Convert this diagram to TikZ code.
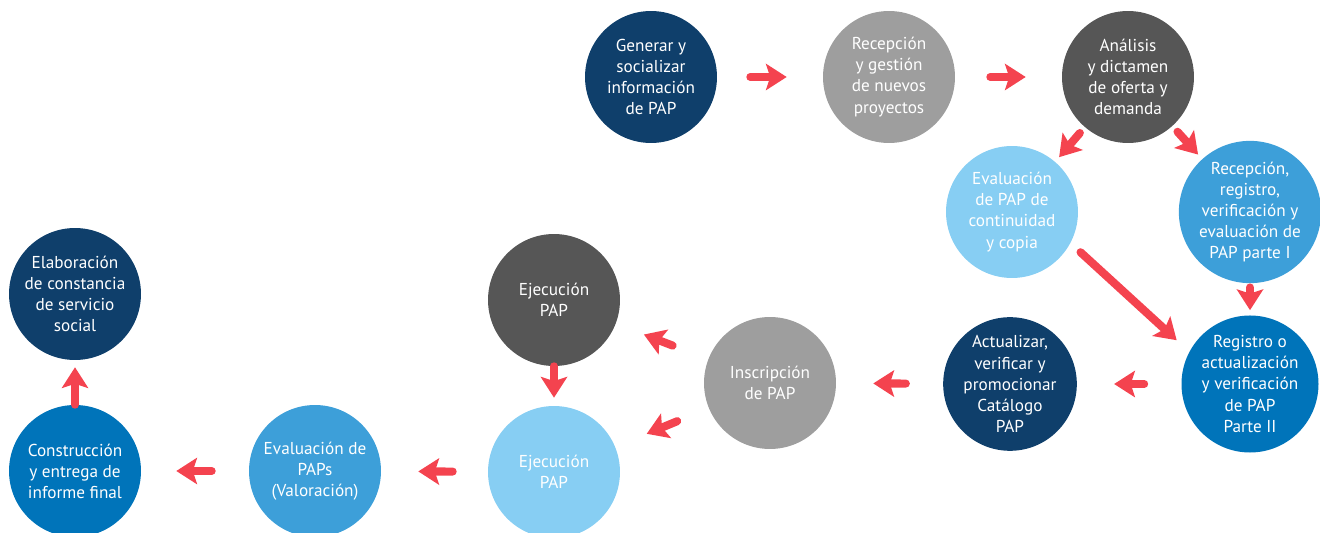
\documentclass[tikz,border=0pt]{standalone}
\usepackage{fontspec}
\setmainfont{PT Sans}
\usetikzlibrary{arrows.meta}
\definecolor{marino}{HTML}{0F3F6B}
\definecolor{gris}{HTML}{9E9E9E}
\definecolor{oscuro}{HTML}{565656}
\definecolor{celeste}{HTML}{87CEF3}
\definecolor{azulm}{HTML}{3D9FD9}
\definecolor{azul}{HTML}{0074BA}
\definecolor{rojo}{HTML}{F4434F}
\tikzset{
  paso/.style={circle, minimum size=2.64cm, inner sep=0pt, align=center, text=white,
    font=\fontsize{9.8}{12}\selectfont},
  flecha/.style={draw=rojo, line width=4.6pt, line cap=round,
    -{Stealth[length=0.42cm, width=0.54cm, inset=0.09cm, line width=0pt]}},
}
\begin{document}
\begin{tikzpicture}[x=0.02cm, y=-0.02cm]
  \useasboundingbox (0,0) rectangle (1320,533);

        \node[paso, fill=marino] (gen) at (651,77) {Generar y\\socializar\\información\\de PAP};
        \node[paso, fill=gris] (rec) at (889,77) {Recepción\\y gestión\\de nuevos\\proyectos};
        \node[paso, fill=oscuro] (ana) at (1128,77) {Análisis\\y dictamen\\de oferta y\\demanda};
        \node[paso, fill=celeste] (eva) at (1012,212) {Evaluación\\de PAP de\\continuidad\\y copia};
        \node[paso, fill=azulm] (reg) at (1250,212) {Recepción,\\registro,\\verificación y\\evaluación de\\PAP parte I};
        \node[paso, fill=azul] (act) at (1250,384) {Registro o\\actualización\\y verificación\\de PAP\\Parte II};
        \node[paso, fill=marino] (cat) at (1010,384) {Actualizar,\\verificar y\\promocionar\\Catálogo\\PAP};
        \node[paso, fill=gris] (ins) at (770,383) {Inscripción\\de PAP};
        \node[paso, fill=oscuro] (ejeA) at (554,300) {Ejecución\\PAP};
        \node[paso, fill=celeste] (ejeB) at (554,472) {Ejecución\\PAP};
        \node[paso, fill=azulm] (val) at (315,471) {Evaluación de\\PAPs\\(Valoración)};
        \node[paso, fill=azul] (inf) at (75,471) {Construcción\\y entrega de\\informe final};
        \node[paso, fill=marino] (con) at (75,294) {Elaboración\\de constancia\\de servicio\\social};

        \path[flecha, shorten <=.66cm, shorten >=.72cm] (gen) -- (rec);
        \path[flecha, shorten <=.7cm, shorten >=.72cm] (rec) -- (ana);
        \path[flecha, shorten <=.15cm, shorten >=.12cm] (ana) -- (eva);
        \path[flecha, shorten <=.15cm, shorten >=.12cm] (ana) -- (reg);
        \path[flecha, shorten <=.08cm, shorten >=.1cm] (reg) -- (act);
        \path[flecha, shorten <=.27cm, shorten >=.34cm] (eva.-28) -- (act.152);
        \path[flecha, shorten <=.74cm, shorten >=.74cm] (act) -- (cat);
        \path[flecha, shorten <=.74cm, shorten >=.74cm] (cat) -- (ins);
        \path[flecha, shorten <=.76cm, shorten >=.6cm] (ins) -- (ejeA);
        \path[flecha, shorten <=.68cm, shorten >=.68cm] (ins) -- (ejeB);
        \path[flecha, shorten <=0cm, shorten >=.16cm] (ejeA) -- (ejeB);
        \path[flecha, shorten <=.7cm, shorten >=.74cm] (ejeB) -- (val);
        \path[flecha, shorten <=.74cm, shorten >=.7cm] (val) -- (inf);
        \path[flecha, shorten <=0cm, shorten >=.14cm] (inf) -- (con);
\end{tikzpicture}
\end{document}
